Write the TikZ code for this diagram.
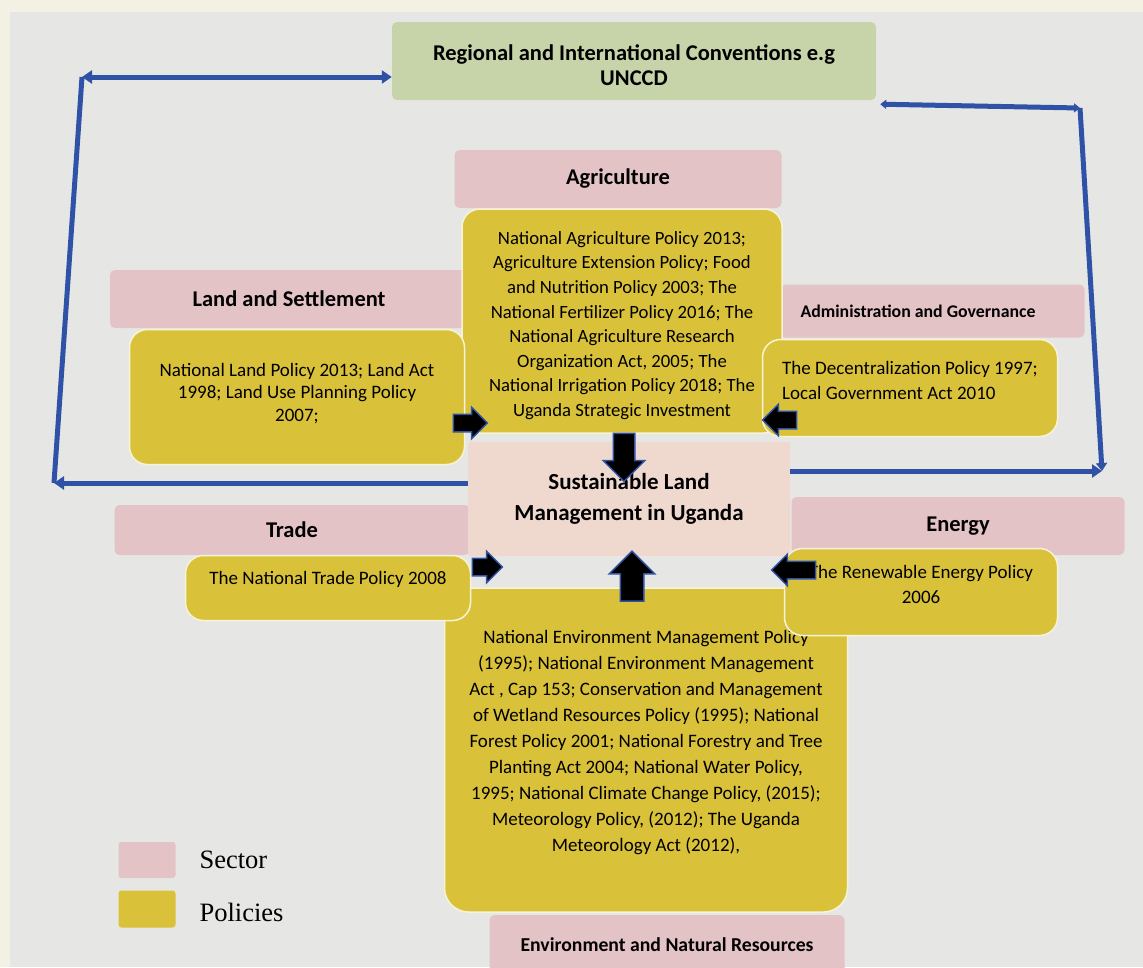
\documentclass[tikz,border=0pt]{standalone}
\usepackage{fontspec}
\setmainfont{Carlito}
\newfontfamily\legendfont{Liberation Serif}
\usetikzlibrary{shapes.arrows,arrows.meta}

\definecolor{sectorpink}{HTML}{E4C3C7}
\definecolor{policyyellow}{HTML}{D9C23A}
\definecolor{unccdgreen}{HTML}{C7D3A8}
\definecolor{slmpeach}{HTML}{EFD9CF}
\definecolor{linkblue}{HTML}{2F52A6}
\definecolor{screengray}{HTML}{E6E7E5}
\definecolor{framecream}{HTML}{F3F1E3}

\tikzset{
  sector/.style={fill=sectorpink, rounded corners=5pt, inner sep=0pt, align=center,
    font=\fontsize{22.5}{25}\selectfont\bfseries},
  policy/.style={fill=policyyellow, draw=white!80!policyyellow, line width=1.5pt,
    rounded corners=18pt, inner sep=0pt, align=center, font=\fontsize{19}{22.5}\selectfont},
  flow/.style={single arrow, fill=black, draw=linkblue, line width=1.5pt, inner sep=8pt,
    single arrow head extend=7pt},
  link/.style={linkblue, line width=5pt},
}

\begin{document}
\begin{tikzpicture}[x=1pt, y=-1pt]
    \useasboundingbox (0,0) rectangle (1143,967);

    % Screen and photo frame
    \fill[screengray] (0,0) rectangle (1143,967);
    \fill[framecream] (0,0) rectangle (1143,12);
    \fill[framecream] (0,0) rectangle (10,967);

    % Conventions at the top
    \node[sector, fill=unccdgreen, minimum width=484, minimum height=78] (unccd) at (634,61)
        {\rule{0pt}{25pt}Regional and International Conventions e.g\\UNCCD};

    % Blue feedback lines
    \coordinate (tl) at (82,77);
    \coordinate (bl) at (54,483);
    \coordinate (tr) at (1080,108);
    \coordinate (br) at (1102,471);

    % Sectors
    \node[sector, minimum width=327, minimum height=58] (agri) at (618,179) {Agriculture};
    \node[sector, minimum width=358, minimum height=58] (land) at (289,299) {Land and Settlement};
    \node[sector, minimum width=305, minimum height=53, font=\fontsize{17.8}{20}\selectfont\bfseries]
        (admin) at (932,311) {Administration and Governance\hspace*{28pt}};
    \node[sector, minimum width=355, minimum height=50] (trade) at (292,530) {Trade};
    \node[sector, minimum width=333, minimum height=58] (energy) at (958,526) {Energy};
    \node[sector, minimum width=355, minimum height=60, font=\fontsize{19.7}{22}\selectfont\bfseries]
        (env) at (667,945) {Environment and Natural Resources};

    % Centre box
    \node[sector, fill=slmpeach, rounded corners=2pt, minimum width=322, minimum height=114,
        font=\fontsize{23}{31}\selectfont\bfseries] (slm) at (629,499)
        {Sustainable Land\\Management in Uganda};

    \draw[link, {Triangle[length=10pt,width=13pt]}-{Triangle[length=10pt,width=13pt]}]
        (tl) -- (unccd.west |- tl);
    \draw[link] (tl) -- (bl);
    \draw[link, -{Triangle[length=10pt,width=13pt]}] (slm.west |- bl) -- (bl);
    \draw[link, {Triangle[length=6pt,width=9pt]}-{Triangle[length=6pt,width=9pt]}]
        ([shift={(4,4)}]unccd.south east) -- (tr);
    \draw[link, -{Triangle[length=8pt,width=11pt]}] (tr) -- (br);
    \draw[link, -{Triangle[length=10pt,width=13pt]}] (slm.east |- br) -- (br);

    % Policies
    \node[policy, minimum width=320, minimum height=224, font=\fontsize{18.7}{24.6}\selectfont]
        (agriPol) at (622,321)
        {\rule{0pt}{22pt}National Agriculture Policy 2013;\\Agriculture Extension Policy; Food\\
         and Nutrition Policy 2003; The\\National Fertilizer Policy 2016; The\\
         National Agriculture Research\\Organization Act, 2005; The\\
         National Irrigation Policy 2018; The\\Uganda Strategic Investment};
    \node[policy, minimum width=335, minimum height=135] (landPol) at (297,397)
        {National Land Policy 2013; Land Act\\1998; Land Use Planning Policy\\2007;\\[-12.5pt]};
    \node[policy, align=left, minimum width=295, minimum height=97, font=\fontsize{19}{25}\selectfont]
        (adminPol) at (910,388)
        {The Decentralization Policy 1997;\\Local Government Act 2010\\[-9pt]};
    \node[policy, minimum width=403, minimum height=324, rounded corners=24pt,
        font=\fontsize{19}{26.1}\selectfont] (envPol) at (646,750)
        {National Environment Management Policy\\(1995); National Environment Management\\
         Act , Cap 153; Conservation and Management\\of Wetland Resources Policy (1995); National\\
         Forest Policy 2001; National Forestry and Tree\\Planting Act 2004; National Water Policy,\\
         1995; National Climate Change Policy, (2015);\\Meteorology Policy, (2012); The Uganda\\
         Meteorology Act (2012),\\[-8pt]};
    \node[policy, minimum width=285, minimum height=65] (tradePol) at (328,588)
        {The National Trade Policy 2008\\[-2.5pt]};
    \node[policy, minimum width=273, minimum height=87, font=\fontsize{19}{25}\selectfont]
        (energyPol) at (921,592) {The Renewable Energy Policy\\2006\\[-9pt]};

    % Flows into the centre
    \node[flow, minimum height=34] (arrLand) at (466,423) {};
    \node[flow, rotate=180, minimum height=34] (arrAdmin) at (784,420) {};
    \node[flow, rotate=-90, minimum height=48, inner sep=10pt, single arrow head extend=10pt]
        (arrAgri) at (624,452) {};
    \node[flow, minimum height=30] (arrTrade) at (483,567) {};
    \node[flow, rotate=90, minimum height=50, inner sep=11pt, single arrow head extend=11pt]
        (arrEnv) at (632,582) {};
    \node[flow, rotate=180, minimum height=44] (arrEnergy) at (798,570) {};

    % Legend
    \node[fill=sectorpink, rounded corners=3pt, minimum width=57, minimum height=36] (legSector) at (147,860) {};
    \node[fill=policyyellow, rounded corners=3pt, minimum width=57, minimum height=37] (legPolicy) at (147,909) {};
    \node[anchor=west, font=\legendfont\fontsize{26.5}{30}\selectfont] (legSectorText) at (196,860) {Sector};
    \node[anchor=west, font=\legendfont\fontsize{26.5}{30}\selectfont] (legPolicyText) at (196,912) {Policies};

\end{tikzpicture}
\end{document}
